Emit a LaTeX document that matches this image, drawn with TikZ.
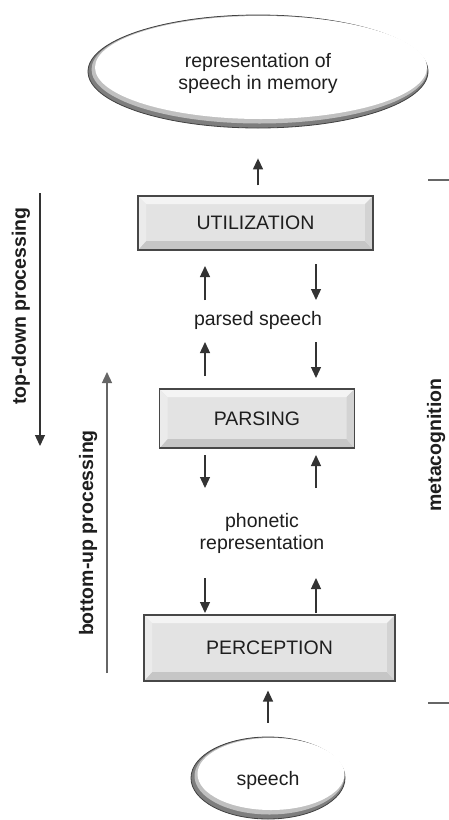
\documentclass[tikz,border=0pt]{standalone}
\usepackage{fontspec}
\setmainfont{Liberation Sans}
\usetikzlibrary{shapes.geometric,arrows.meta,calc}
\definecolor{ink}{HTML}{1E1E1E}
\definecolor{linec}{HTML}{333333}
\definecolor{lightline}{HTML}{666666}
\definecolor{boxface}{HTML}{E3E3E3}
\definecolor{bevtop}{HTML}{F4F4F4}
\definecolor{bevleft}{HTML}{EBEBEB}
\definecolor{bevbot}{HTML}{C6C6C6}
\definecolor{bevright}{HTML}{D3D3D3}
\definecolor{rimdark}{HTML}{7E7E7E}
\definecolor{rimmid}{HTML}{C0C0C0}
\tikzset{
  txt/.style={text=ink, font=\fontsize{19.5}{22.5}\selectfont, align=center, inner sep=0pt},
  sidelbl/.style={text=ink, font=\fontsize{19.5}{22.5}\selectfont\bfseries, inner sep=0pt, rotate=90},
  arr/.style={draw=linec, line width=1.3pt, -{Triangle[length=11pt,width=10pt]}},
  garr/.style={draw=lightline, line width=1.3pt, -{Triangle[length=11pt,width=10pt]}},
  tick/.style={draw=lightline, line width=1.6pt},
  bevelbox/.style={draw=black!72, line width=1.1pt, fill=boxface, inner sep=0pt,
    text=ink, font=\fontsize{19.5}{22.5}\selectfont,
    path picture={
      \fill[bevtop] (path picture bounding box.north west) -- (path picture bounding box.north east)
        -- ([xshift=-8pt,yshift=-8pt]path picture bounding box.north east)
        -- ([xshift=8pt,yshift=-8pt]path picture bounding box.north west) -- cycle;
      \fill[bevbot] (path picture bounding box.south west) -- (path picture bounding box.south east)
        -- ([xshift=-8pt,yshift=9pt]path picture bounding box.south east)
        -- ([xshift=8pt,yshift=9pt]path picture bounding box.south west) -- cycle;
      \fill[bevleft] (path picture bounding box.north west)
        -- ([xshift=8pt,yshift=-8pt]path picture bounding box.north west)
        -- ([xshift=8pt,yshift=9pt]path picture bounding box.south west)
        -- (path picture bounding box.south west) -- cycle;
      \fill[bevright] (path picture bounding box.north east)
        -- ([xshift=-8pt,yshift=-8pt]path picture bounding box.north east)
        -- ([xshift=-8pt,yshift=9pt]path picture bounding box.south east)
        -- (path picture bounding box.south east) -- cycle;
    }},
  ovalrim/.style={ellipse, draw=black!75, line width=0.8pt, fill=rimdark, inner sep=0pt}
}
\begin{document}
\begin{tikzpicture}[x=1pt,y=-1pt]
\useasboundingbox[fill=white] (0,0) rectangle (449,820);

% top ellipse
\node[ovalrim, minimum width=340pt, minimum height=113pt] (mem) at (258,71.5) {};
\fill[rimmid] ([shift={(1.5pt,2pt)}]mem.center) ellipse [x radius=168pt, y radius=54pt];
\fill[white] ([shift={(3pt,4pt)}]mem.center) ellipse [x radius=166pt, y radius=51.5pt];
\node[txt] (memt) at (258,73.5) {representation of\\speech in memory};

% speech ellipse
\node[ovalrim, minimum width=154pt, minimum height=82pt] (sp) at (268,778) {};
\fill[rimmid] ([shift={(1.5pt,2pt)}]sp.center) ellipse [x radius=75pt, y radius=38.5pt];
\fill[white] ([shift={(3pt,4pt)}]sp.center) ellipse [x radius=73.5pt, y radius=36pt];
\node[txt] (spt) at (268,780) {speech};

% boxes
\node[bevelbox, minimum width=235pt, minimum height=54pt] (util) at (255.5,223) {UTILIZATION};
\node[bevelbox, minimum width=195pt, minimum height=59pt] (pars) at (257,418.5) {PARSING};
\node[bevelbox, minimum width=251pt, minimum height=66pt] (perc) at (269.5,648) {PERCEPTION};

% intermediate labels
\node[txt] (ps) at (258,320) {parsed speech};
\node[txt] (ph) at (262,533.5) {phonetic\\representation};

% vertical arrows
\draw[arr, shorten <=10pt, shorten >=30pt] ([xshift=2.5pt]util.north) -- ([xshift=2.5pt]util.north |- mem.south);
\draw[arr, shorten <=14pt, shorten >=9pt] (sp.north) -- (sp.north |- perc.south);

\coordinate (L1a) at (205,300); \coordinate (L1b) at (205,266);
\coordinate (R1a) at (316,264); \coordinate (R1b) at (316,300);
\coordinate (L2a) at (205,376); \coordinate (L2b) at (205,342);
\coordinate (R2a) at (316,342); \coordinate (R2b) at (316,378);
\coordinate (L3a) at (205,455); \coordinate (L3b) at (205,488);
\coordinate (R3a) at (316,488); \coordinate (R3b) at (316,455);
\coordinate (L4a) at (205,578); \coordinate (L4b) at (205,613);
\coordinate (R4a) at (316,613); \coordinate (R4b) at (316,578);
\foreach \n in {L1,R1,L2,R2,L3,R3,L4,R4} {\draw[arr] (\n a) -- (\n b);}

% side labels
\coordinate (td1) at (40,193); \coordinate (td2) at (40,446);
\draw[arr] (td1) -- (td2);
\node[sidelbl] (tdl) at (21,306) {top-down processing};
\coordinate (bu1) at (107,673); \coordinate (bu2) at (107,372);
\draw[garr] (bu1) -- (bu2);
\node[sidelbl] (bul) at (88,533) {bottom-up processing};
\node[sidelbl] (meta) at (436,445) {metacognition};
\coordinate (t1a) at (428,180); \coordinate (t1b) at (449,180);
\coordinate (t2a) at (428,703); \coordinate (t2b) at (449,703);
\draw[tick] (t1a) -- (t1b);
\draw[tick] (t2a) -- (t2b);
\end{tikzpicture}
\end{document}
